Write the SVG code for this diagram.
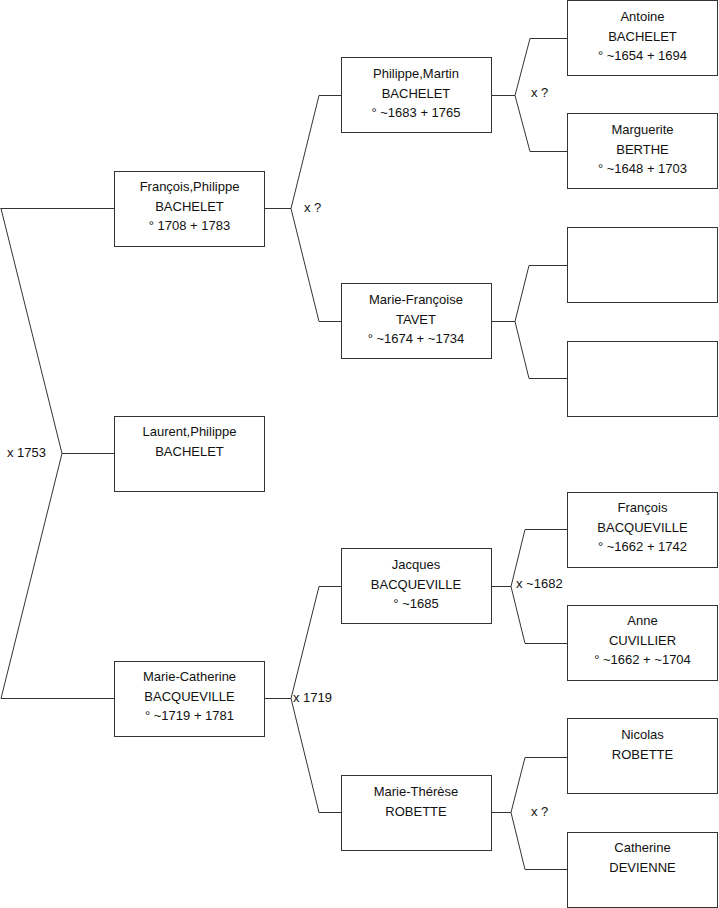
<svg xmlns="http://www.w3.org/2000/svg" width="719" height="908" viewBox="0 0 719 908">
<style>
rect.box{fill:#fff;stroke:#333;stroke-width:1}
text{font-family:"Liberation Sans",Arial,sans-serif;font-size:13px;fill:#111}
text.c{text-anchor:middle}
#connectors path{fill:none;stroke:#333;stroke-width:1}
</style>
<rect width="719" height="908" fill="#fff"/>
<g id="connectors">
<path d="M0.5,208.5 H114 M1,208.5 L62,453.5 L1,698.5 H114 M62,453.5 H114"/>
<path d="M265,208.5 H291 L319,95.5 H341 M291,208.5 L319,321.5 H341"/>
<path d="M265,698.5 H291 L319,586.5 H341 M291,698.5 L319,812.5 H341"/>
<path d="M491,95.5 H515 L530,38.5 H567 M515,95.5 L530,151.5 H567"/>
<path d="M491,321.5 H515 L529,265.5 H567 M515,321.5 L529,378.5 H567"/>
<path d="M491,586.5 H511 L525,529.5 H567 M511,586.5 L525,643.5 H567"/>
<path d="M491,812.5 H511 L525,757.5 H567 M511,812.5 L525,869.5 H567"/>
<text x="7" y="457">x 1753</text>
<text x="304" y="212">x ?</text>
<text x="293" y="702">x 1719</text>
<text x="531" y="97">x ?</text>
<text x="516" y="588">x ~1682</text>
<text x="531" y="816">x ?</text>
</g>
<g id="n-francois-philippe">
<rect class="box" x="114.5" y="171.5" width="150" height="75"/>
<text class="c" x="189.5" y="191">François,Philippe</text>
<text class="c" x="189.5" y="211">BACHELET</text>
<text class="c" x="189.5" y="230">° 1708 + 1783</text>
</g>
<g id="n-laurent-philippe">
<rect class="box" x="114.5" y="416.5" width="150" height="75"/>
<text class="c" x="189.5" y="436">Laurent,Philippe</text>
<text class="c" x="189.5" y="456">BACHELET</text>
</g>
<g id="n-marie-catherine">
<rect class="box" x="114.5" y="661.5" width="150" height="75"/>
<text class="c" x="189.5" y="681">Marie-Catherine</text>
<text class="c" x="189.5" y="701">BACQUEVILLE</text>
<text class="c" x="189.5" y="720">° ~1719 + 1781</text>
</g>
<g id="n-philippe-martin">
<rect class="box" x="341.5" y="57.5" width="150" height="75"/>
<text class="c" x="416" y="78">Philippe,Martin</text>
<text class="c" x="416" y="98">BACHELET</text>
<text class="c" x="416" y="117">° ~1683 + 1765</text>
</g>
<g id="n-marie-francoise">
<rect class="box" x="341.5" y="283.5" width="150" height="75"/>
<text class="c" x="416" y="304">Marie-Françoise</text>
<text class="c" x="416" y="324">TAVET</text>
<text class="c" x="416" y="343">° ~1674 + ~1734</text>
</g>
<g id="n-jacques">
<rect class="box" x="341.5" y="548.5" width="150" height="75"/>
<text class="c" x="416" y="569">Jacques</text>
<text class="c" x="416" y="589">BACQUEVILLE</text>
<text class="c" x="416" y="608">° ~1685</text>
</g>
<g id="n-marie-therese">
<rect class="box" x="341.5" y="775.5" width="150" height="75"/>
<text class="c" x="416" y="796">Marie-Thérèse</text>
<text class="c" x="416" y="816">ROBETTE</text>
</g>
<g id="n-antoine">
<rect class="box" x="567.5" y="0.5" width="150" height="75"/>
<text class="c" x="642.5" y="21">Antoine</text>
<text class="c" x="642.5" y="41">BACHELET</text>
<text class="c" x="642.5" y="60">° ~1654 + 1694</text>
</g>
<g id="n-marguerite">
<rect class="box" x="567.5" y="113.5" width="150" height="75"/>
<text class="c" x="642.5" y="134">Marguerite</text>
<text class="c" x="642.5" y="154">BERTHE</text>
<text class="c" x="642.5" y="173">° ~1648 + 1703</text>
</g>
<g id="n-blank1">
<rect class="box" x="567.5" y="227.5" width="150" height="75"/>
</g>
<g id="n-blank2">
<rect class="box" x="567.5" y="341.5" width="150" height="75"/>
</g>
<g id="n-francois-bacqueville">
<rect class="box" x="567.5" y="492.5" width="150" height="75"/>
<text class="c" x="642.5" y="512">François</text>
<text class="c" x="642.5" y="532">BACQUEVILLE</text>
<text class="c" x="642.5" y="551">° ~1662 + 1742</text>
</g>
<g id="n-anne">
<rect class="box" x="567.5" y="605.5" width="150" height="75"/>
<text class="c" x="642.5" y="625">Anne</text>
<text class="c" x="642.5" y="645">CUVILLIER</text>
<text class="c" x="642.5" y="664">° ~1662 + ~1704</text>
</g>
<g id="n-nicolas">
<rect class="box" x="567.5" y="718.5" width="150" height="75"/>
<text class="c" x="642.5" y="739">Nicolas</text>
<text class="c" x="642.5" y="759">ROBETTE</text>
</g>
<g id="n-catherine">
<rect class="box" x="567.5" y="832.5" width="150" height="75"/>
<text class="c" x="642.5" y="852">Catherine</text>
<text class="c" x="642.5" y="872">DEVIENNE</text>
</g>
</svg>
